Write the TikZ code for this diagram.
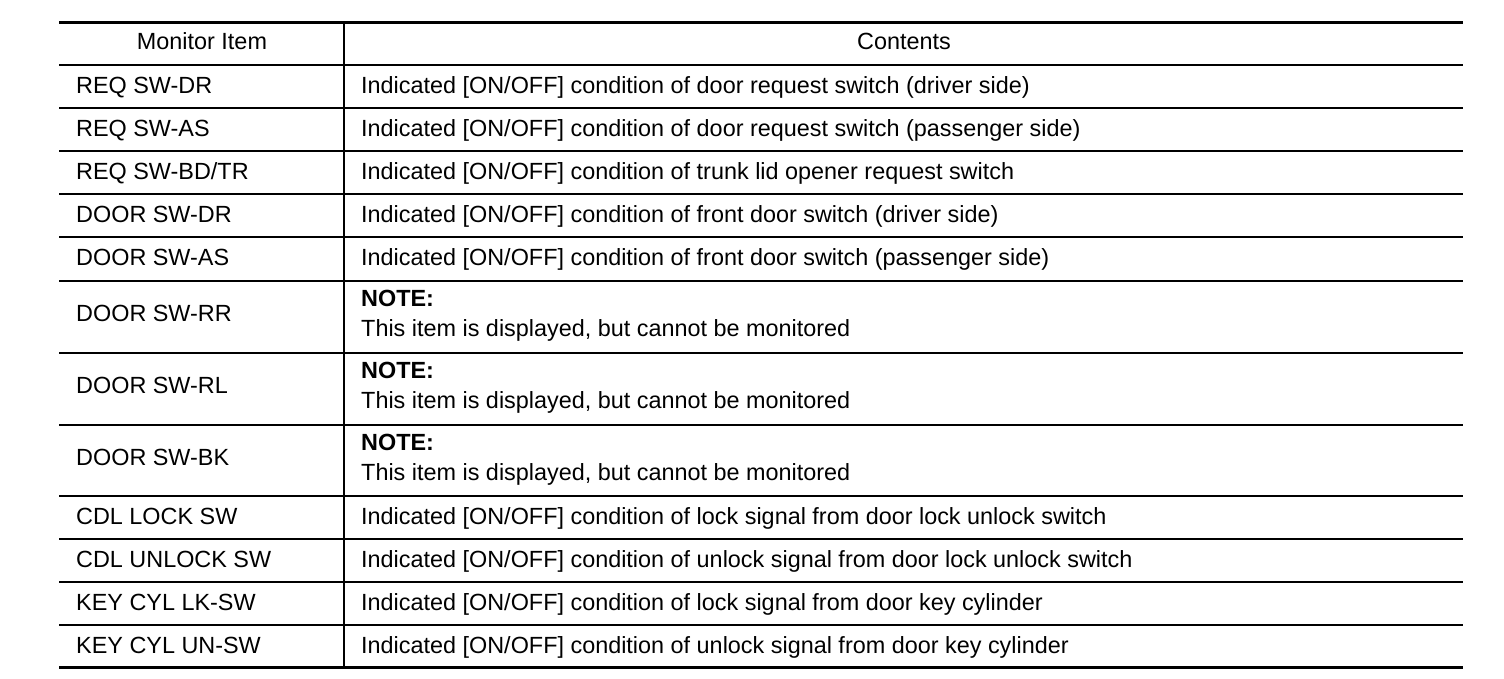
\documentclass[tikz,border=0pt]{standalone}
\usepackage{fontspec}
\setmainfont{Liberation Sans}
\begin{document}
\begin{tikzpicture}[x=1pt,y=-1pt,
  every node/.style={inner sep=0pt, font=\fontsize{23.4}{26}\selectfont},
  cell/.style={anchor=base west},
  head/.style={anchor=base},
  rulethick/.style={line width=3pt},
  rulehead/.style={line width=2.5pt},
  rulemid/.style={line width=2pt},
  rulethin/.style={line width=1.2pt}]
\useasboundingbox (0,0) rectangle (1504,678);
% rules
\draw[rulethick] (59,22.5) -- (1463,22.5);
\draw[rulehead] (59,65) -- (1463,65);
\draw[rulethin] (59,108) -- (1463,108);
\draw[rulemid] (59,151) -- (1463,151);
\draw[rulethin] (59,194) -- (1463,194);
\draw[rulemid] (59,237) -- (1463,237);
\draw[rulethin] (59,281) -- (1463,281);
\draw[rulethin] (59,353) -- (1463,353);
\draw[rulethin] (59,425) -- (1463,425);
\draw[rulethin] (59,496) -- (1463,496);
\draw[rulethin] (59,539) -- (1463,539);
\draw[rulethin] (59,582) -- (1463,582);
\draw[rulemid] (59,625) -- (1463,625);
\draw[rulethick] (59,667.5) -- (1463,667.5);
\draw[rulemid] (344,22) -- (344,668);
% header
\node[head] (h1) at (202,49.5) {Monitor Item};
\node[head] (h2) at (904,49.5) {Contents};
% rows
\node[cell] (a1) at (76,93.5) {REQ SW-DR};
\node[cell] (b1) at (361,93.5) {Indicated [ON/OFF] condition of door request switch (driver side)};
\node[cell] (a2) at (76,136.5) {REQ SW-AS};
\node[cell] (b2) at (361,136.5) {Indicated [ON/OFF] condition of door request switch (passenger side)};
\node[cell] (a3) at (76,179.5) {REQ SW-BD/TR};
\node[cell] (b3) at (361,179.5) {Indicated [ON/OFF] condition of trunk lid opener request switch};
\node[cell] (a4) at (76,222.5) {DOOR SW-DR};
\node[cell] (b4) at (361,222.5) {Indicated [ON/OFF] condition of front door switch (driver side)};
\node[cell] (a5) at (76,265.5) {DOOR SW-AS};
\node[cell] (b5) at (361,265.5) {Indicated [ON/OFF] condition of front door switch (passenger side)};
\node[cell] (a6) at (76,321.5) {DOOR SW-RR};
\node[cell] (b6n) at (361,306.5) {\bfseries NOTE:};
\node[cell] (b6) at (361,336.5) {This item is displayed, but cannot be monitored};
\node[cell] (a7) at (76,393.5) {DOOR SW-RL};
\node[cell] (b7n) at (361,378.5) {\bfseries NOTE:};
\node[cell] (b7) at (361,408.5) {This item is displayed, but cannot be monitored};
\node[cell] (a8) at (76,465.5) {DOOR SW-BK};
\node[cell] (b8n) at (361,450.5) {\bfseries NOTE:};
\node[cell] (b8) at (361,480.5) {This item is displayed, but cannot be monitored};
\node[cell] (a9) at (76,524.5) {CDL LOCK SW};
\node[cell] (b9) at (361,524.5) {Indicated [ON/OFF] condition of lock signal from door lock unlock switch};
\node[cell] (a10) at (76,567.5) {CDL UNLOCK SW};
\node[cell] (b10) at (361,567.5) {Indicated [ON/OFF] condition of unlock signal from door lock unlock switch};
\node[cell] (a11) at (76,610.5) {KEY CYL LK-SW};
\node[cell] (b11) at (361,610.5) {Indicated [ON/OFF] condition of lock signal from door key cylinder};
\node[cell] (a12) at (76,653.5) {KEY CYL UN-SW};
\node[cell] (b12) at (361,653.5) {Indicated [ON/OFF] condition of unlock signal from door key cylinder};
\end{tikzpicture}
\end{document}
